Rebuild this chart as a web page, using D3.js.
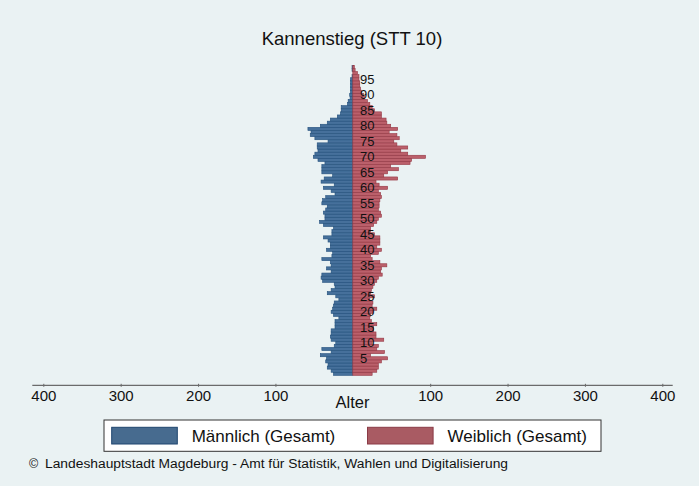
<!DOCTYPE html>
<html>
<head>
<meta charset="utf-8">
<script src="https://cdn.jsdelivr.net/npm/d3@7/dist/d3.min.js"></script>
<style>
  html, body { margin: 0; padding: 0; background: #eaf2f3; }
  svg { display: block; font-family: "Liberation Sans", Arial, Helvetica, sans-serif; }
</style>
</head>
<body>
<svg id="chart" width="699" height="486"></svg>
<script>
// Altersaufbau Kannenstieg: Einwohner je Altersjahr
const ages = d3.range(0, 100);

const male = [
  25, 28, 33, 32, 35, 34, 42, 28, 40, 24,
  22, 28, 29, 28, 28, 23, 23, 23, 18, 25,
  28, 26, 25, 24, 18, 22, 33, 28, 23, 24,
  39, 41, 40, 28, 34, 28, 29, 40, 27, 26,
  34, 29, 29, 32, 38, 27, 27, 25, 38, 43,
  36, 36, 38, 35, 33, 40, 39, 35, 23, 28,
  38, 24, 41, 37, 26, 40, 40, 40, 36, 45,
  51, 49, 45, 46, 46, 32, 49, 55, 54, 58,
  42, 33, 29, 20, 16, 15, 15, 7, 6, 3.5,
  4, 3, 3, 3, 3, 3, 1, 0, 1, 1
];

const female = [
  25, 31, 33, 33, 37, 45, 23, 41, 31, 33,
  25, 40, 30, 30, 27, 27, 31, 24, 22, 23,
  26, 31, 25, 26, 22, 28, 23, 24, 26, 28,
  31, 33, 38, 36, 37, 44, 35, 25, 23, 33,
  37, 31, 35, 35, 35, 28, 23, 23, 27, 31,
  33, 37, 36, 33, 34, 34, 35, 37, 36, 33,
  45, 34, 30, 58, 40, 45, 59, 49, 74, 76,
  94, 71, 62, 71, 57, 53, 60, 57, 47, 58,
  49, 44, 43, 37, 37, 28, 25, 22, 19, 15,
  14, 11, 10, 9, 9, 8, 8, 6, 3, 2
];

const ageLabels = [5, 10, 15, 20, 25, 30, 35, 40, 45, 50, 55, 60, 65, 70, 75, 80, 85, 90, 95];
const xTicks = [-400, -300, -200, -100, 100, 200, 300, 400];

const title = "Kannenstieg (STT 10)";
const axisTitle = "Alter";
const seriesNames = ["Männlich (Gesamt)", "Weiblich (Gesamt)"];
const source = "Landeshauptstadt Magdeburg - Amt für Statistik, Wahlen und Digitalisierung";

const colors = {
  maleFill: "#46709b", maleStroke: "#24507c",
  femaleFill: "#bb606b", femaleStroke: "#943844",
  maleKey: "#476b8f", maleKeyStroke: "#1f456f",
  femaleKey: "#a95b63", femaleKeyStroke: "#8a3b46"
};

const svg = d3.select("#chart");

// Scales: signed values, men to the left, women to the right
const x = d3.scaleLinear().domain([-400, 400]).range([43.3, 662.3]);
const y = d3.scaleBand().domain(ages).range([375.35, 65.35]).paddingInner(0);

// Title
svg.append("text")
  .attr("x", 352).attr("y", 45)
  .attr("text-anchor", "middle")
  .attr("font-size", 18.5)
  .attr("fill", "#111")
  .text(title);

// Bars
const bars = svg.append("g");
bars.selectAll("rect.m")
  .data(ages)
  .join("rect")
  .attr("class", "m")
  .attr("x", d => x(-male[d]))
  .attr("y", d => y(d))
  .attr("width", d => x(0) - x(-male[d]))
  .attr("height", y.bandwidth())
  .attr("fill", colors.maleFill)
  .attr("stroke", colors.maleStroke)
  .attr("stroke-width", 0.6);

bars.selectAll("rect.f")
  .data(ages)
  .join("rect")
  .attr("class", "f")
  .attr("x", x(0))
  .attr("y", d => y(d))
  .attr("width", d => x(female[d]) - x(0))
  .attr("height", y.bandwidth())
  .attr("fill", colors.femaleFill)
  .attr("stroke", colors.femaleStroke)
  .attr("stroke-width", 0.6);

// Age labels on top of the bars
svg.append("g")
  .selectAll("text")
  .data(ageLabels)
  .join("text")
  .attr("x", 360)
  .attr("y", d => y(d) + y.bandwidth() / 2)
  .attr("dy", "0.35em")
  .attr("font-size", 13)
  .attr("fill", "#111")
  .text(d => d);

// Horizontal axis
const axisY = 385.3;
const axis = d3.axisBottom(x)
  .tickValues(xTicks)
  .tickSize(3)
  .tickFormat(d => Math.abs(d));

const gAxis = svg.append("g")
  .attr("transform", `translate(0,${axisY})`)
  .call(axis);
gAxis.select(".domain").remove();
gAxis.selectAll(".tick line").attr("stroke", "#666").attr("y1", -1.5).attr("y2", 1.5);
gAxis.selectAll(".tick text")
  .attr("y", 15.4)
  .attr("dy", 0)
  .attr("font-size", 15)
  .attr("font-family", "Liberation Sans, Arial, sans-serif")
  .attr("fill", "#111");

svg.append("line")
  .attr("x1", x(-400) - 11).attr("x2", x(400) + 10.4)
  .attr("y1", axisY).attr("y2", axisY)
  .attr("stroke", "#6b6b6b")
  .attr("stroke-width", 1.3);

svg.append("text")
  .attr("x", 352.5).attr("y", 408)
  .attr("text-anchor", "middle")
  .attr("font-size", 16.5)
  .attr("fill", "#111")
  .text(axisTitle);

// Legend
const legend = svg.append("g");
legend.append("rect")
  .attr("x", 104).attr("y", 420)
  .attr("width", 497).attr("height", 31.3)
  .attr("fill", "#ffffff")
  .attr("stroke", "#333")
  .attr("stroke-width", 1);

const keys = [
  { x: 111.7, fill: colors.maleKey, stroke: colors.maleKeyStroke, label: seriesNames[0] },
  { x: 367.5, fill: colors.femaleKey, stroke: colors.femaleKeyStroke, label: seriesNames[1] }
];
keys.forEach(k => {
  legend.append("rect")
    .attr("x", k.x).attr("y", 427.3)
    .attr("width", 65.6).attr("height", 16.7)
    .attr("fill", k.fill)
    .attr("stroke", k.stroke)
    .attr("stroke-width", 1);
  legend.append("text")
    .attr("x", k.x + 80).attr("y", 441.5)
    .attr("font-size", 17)
    .attr("fill", "#111")
    .text(k.label);
});

// Source line
svg.append("text")
  .attr("x", 29).attr("y", 467.5)
  .attr("font-size", 12.5)
  .attr("fill", "#111")
  .text("©");
svg.append("text")
  .attr("x", 45).attr("y", 467.5)
  .attr("font-size", 12.5)
  .attr("textLength", 463)
  .attr("lengthAdjust", "spacingAndGlyphs")
  .attr("fill", "#111")
  .text(source);
</script>
</body>
</html>
